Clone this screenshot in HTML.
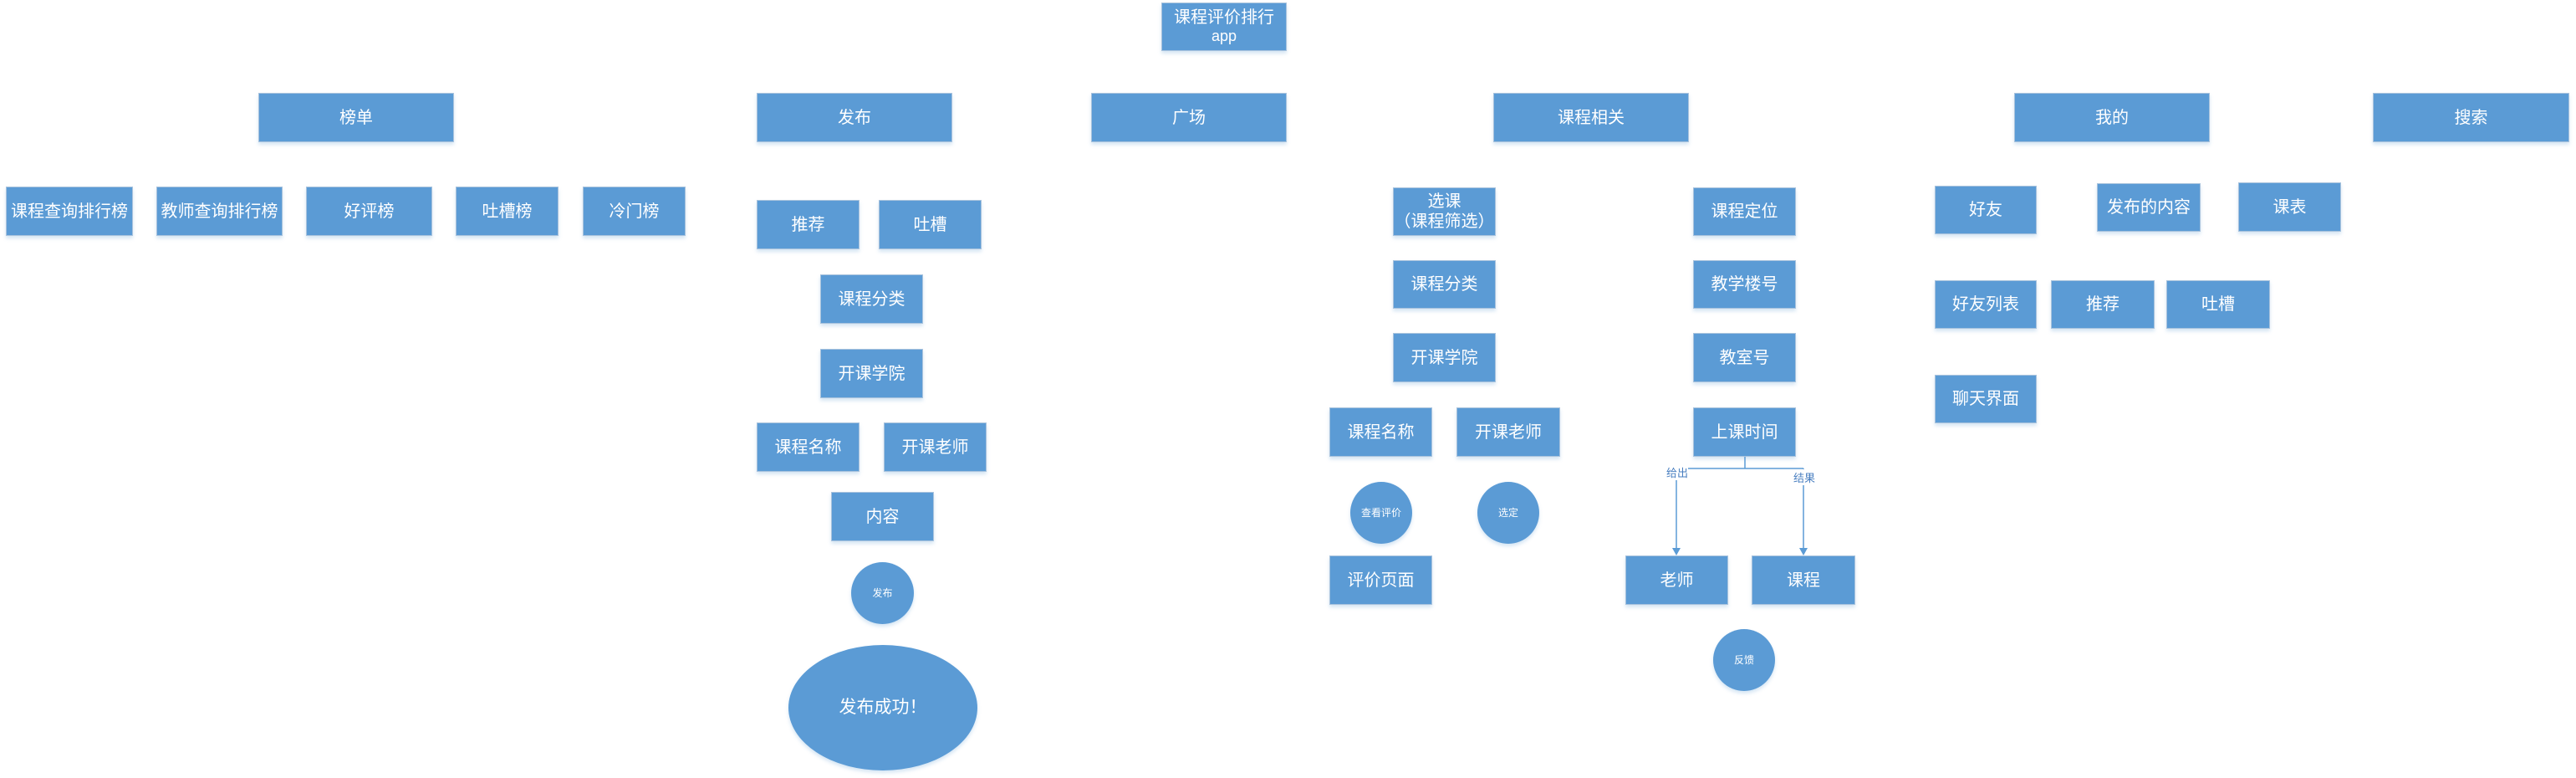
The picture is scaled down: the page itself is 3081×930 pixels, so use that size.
<!DOCTYPE html>
<html><head><meta charset="utf-8"><style>
body{margin:0;width:3081px;height:930px;background:#fff;position:relative;overflow:hidden;font-family:"Liberation Sans","Noto Sans CJK SC",sans-serif;}
.b{position:absolute;background:#5b9bd5;color:#fff;display:flex;align-items:center;justify-content:center;text-align:center;font-size:20px;line-height:1.2;box-shadow:0 3px 4px rgba(91,155,213,0.25);border:1px solid #a9c3dd;box-sizing:border-box;}
.c{border-radius:50%;font-size:12px;border:none;}
.l{position:absolute;color:#4a7fc0;font-size:13px;background:#fff;}
</style></head><body>
<div class="b" style="left:1389px;top:3px;width:150px;height:58px;flex-direction:column;line-height:1.15">课程评价排行<br><span style="font-size:18px">app</span></div>

<div class="b" style="left:309px;top:111px;width:234px;height:59px">榜单</div>
<div class="b" style="left:905px;top:111px;width:234px;height:59px">发布</div>
<div class="b" style="left:1305px;top:111px;width:234px;height:59px">广场</div>
<div class="b" style="left:1786px;top:111px;width:234px;height:59px">课程相关</div>
<div class="b" style="left:2409px;top:111px;width:234px;height:59px">我的</div>
<div class="b" style="left:2838px;top:111px;width:235px;height:59px">搜索</div>

<div class="b" style="left:7px;top:223px;width:152px;height:59px">课程查询排行榜</div>
<div class="b" style="left:187px;top:223px;width:151px;height:59px">教师查询排行榜</div>
<div class="b" style="left:366px;top:223px;width:151px;height:59px">好评榜</div>
<div class="b" style="left:545px;top:223px;width:123px;height:59px">吐槽榜</div>
<div class="b" style="left:697px;top:223px;width:123px;height:59px">冷门榜</div>

<div class="b" style="left:905px;top:239px;width:123px;height:59px">推荐</div>
<div class="b" style="left:1051px;top:239px;width:123px;height:59px">吐槽</div>
<div class="b" style="left:981px;top:328px;width:123px;height:59px">课程分类</div>
<div class="b" style="left:981px;top:417px;width:123px;height:59px">开课学院</div>
<div class="b" style="left:905px;top:505px;width:123px;height:59px">课程名称</div>
<div class="b" style="left:1057px;top:505px;width:123px;height:59px">开课老师</div>
<div class="b" style="left:994px;top:588px;width:123px;height:59px">内容</div>
<div class="b c" style="left:1018px;top:672px;width:75px;height:74px">发布</div>
<div class="b c" style="left:943px;top:771px;width:226px;height:150px;font-size:21px">发布成功！</div>

<div class="b" style="left:1666px;top:224px;width:123px;height:58px">选课<br>（课程筛选）</div>
<div class="b" style="left:1666px;top:311px;width:123px;height:58px">课程分类</div>
<div class="b" style="left:1666px;top:398px;width:123px;height:59px">开课学院</div>
<div class="b" style="left:1590px;top:487px;width:123px;height:59px">课程名称</div>
<div class="b" style="left:1742px;top:487px;width:124px;height:59px">开课老师</div>
<div class="b c" style="left:1615px;top:576px;width:74px;height:74px">查看评价</div>
<div class="b c" style="left:1767px;top:576px;width:74px;height:74px">选定</div>
<div class="b" style="left:1590px;top:664px;width:123px;height:59px">评价页面</div>

<div class="b" style="left:2025px;top:224px;width:123px;height:58px">课程定位</div>
<div class="b" style="left:2025px;top:311px;width:123px;height:58px">教学楼号</div>
<div class="b" style="left:2025px;top:398px;width:123px;height:59px">教室号</div>
<div class="b" style="left:2025px;top:487px;width:123px;height:59px">上课时间</div>
<div class="b" style="left:1944px;top:664px;width:123px;height:59px">老师</div>
<div class="b" style="left:2095px;top:664px;width:124px;height:59px">课程</div>
<div class="b c" style="left:2049px;top:752px;width:74px;height:74px">反馈</div>

<svg style="position:absolute;left:0;top:0" width="3081" height="930">
<g stroke="#5b9bd5" stroke-width="1.5" fill="none">
<path d="M2087 546 V560 M2005 560 H2157 M2005 560 V656 M2157 560 V656"/>
</g>
<g fill="#5b9bd5"><path d="M2000 655 L2010 655 L2005 664 Z"/><path d="M2152 655 L2162 655 L2157 664 Z"/></g>
</svg>
<div class="l" style="left:1993px;top:555px">给出</div>
<div class="l" style="left:2145px;top:561px">结果</div>

<div class="b" style="left:2314px;top:222px;width:122px;height:58px">好友</div>
<div class="b" style="left:2508px;top:219px;width:124px;height:58px">发布的内容</div>
<div class="b" style="left:2677px;top:218px;width:123px;height:59px">课表</div>
<div class="b" style="left:2314px;top:335px;width:122px;height:58px">好友列表</div>
<div class="b" style="left:2453px;top:335px;width:124px;height:58px">推荐</div>
<div class="b" style="left:2591px;top:335px;width:124px;height:58px">吐槽</div>
<div class="b" style="left:2314px;top:448px;width:122px;height:58px">聊天界面</div>
</body></html>
